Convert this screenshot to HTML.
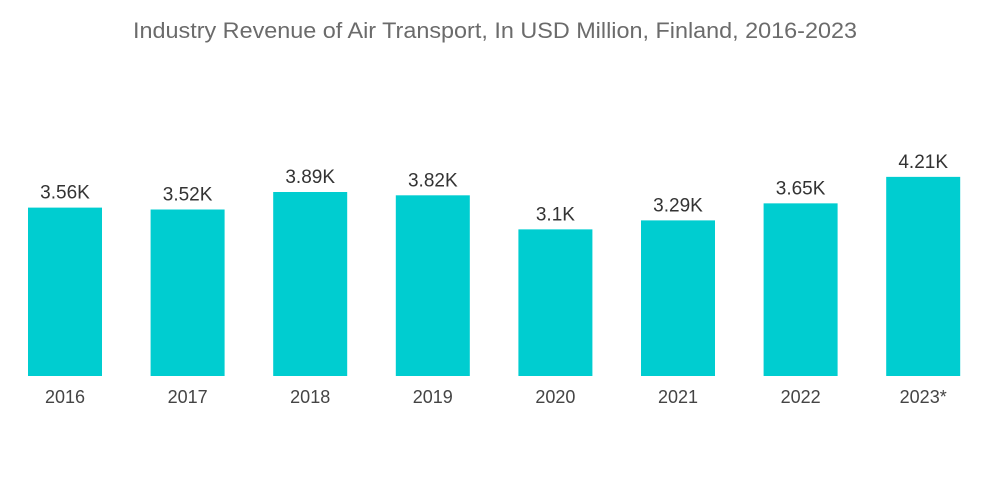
<!DOCTYPE html>
<html><head><meta charset="utf-8"><style>
body{margin:0;background:#fff;}
svg{display:block;font-family:"Liberation Sans",sans-serif;}
</style></head><body>
<svg id="chart" width="1000" height="504">
<text x="495" y="38" text-anchor="middle" font-size="22" fill="#6b6b6b" textLength="724" lengthAdjust="spacingAndGlyphs">Industry Revenue of Air Transport, In USD Million, Finland, 2016-2023</text>
<g id="bars"></g>
</svg>
<script>
const categories=["2016","2017","2018","2019","2020","2021","2022","2023*"];
const values=[3.56,3.52,3.89,3.82,3.1,3.29,3.65,4.21];
const valueLabels=["3.56K","3.52K","3.89K","3.82K","3.1K","3.29K","3.65K","4.21K"];
const baseY=376, pxPerUnit=47.3, x0=28, pitch=122.6, bw=74;
const xs=i=>x0+i*pitch;
const ys=v=>baseY-v*pxPerUnit;
const g=document.getElementById('bars');
const NS='http://www.w3.org/2000/svg';
categories.forEach((c,i)=>{
  const r=document.createElementNS(NS,'rect');
  r.setAttribute('x',xs(i));r.setAttribute('y',ys(values[i]));
  r.setAttribute('width',bw);r.setAttribute('height',baseY-ys(values[i]));
  r.setAttribute('fill','#00cdd0');
  
  
  g.appendChild(r);
  const t=document.createElementNS(NS,'text');
  t.setAttribute('x',xs(i)+bw/2);t.setAttribute('y',ys(values[i])-9);
  t.setAttribute('text-anchor','middle');t.setAttribute('font-size','19');t.setAttribute('fill','#333');
  t.textContent=valueLabels[i];
  
  
  g.appendChild(t);
  const a=document.createElementNS(NS,'text');
  a.setAttribute('x',xs(i)+bw/2);a.setAttribute('y',403);
  a.setAttribute('text-anchor','middle');a.setAttribute('font-size','18');a.setAttribute('fill','#444');
  a.textContent=c;
  
  
  g.appendChild(a);
});
</script>
</body></html>
